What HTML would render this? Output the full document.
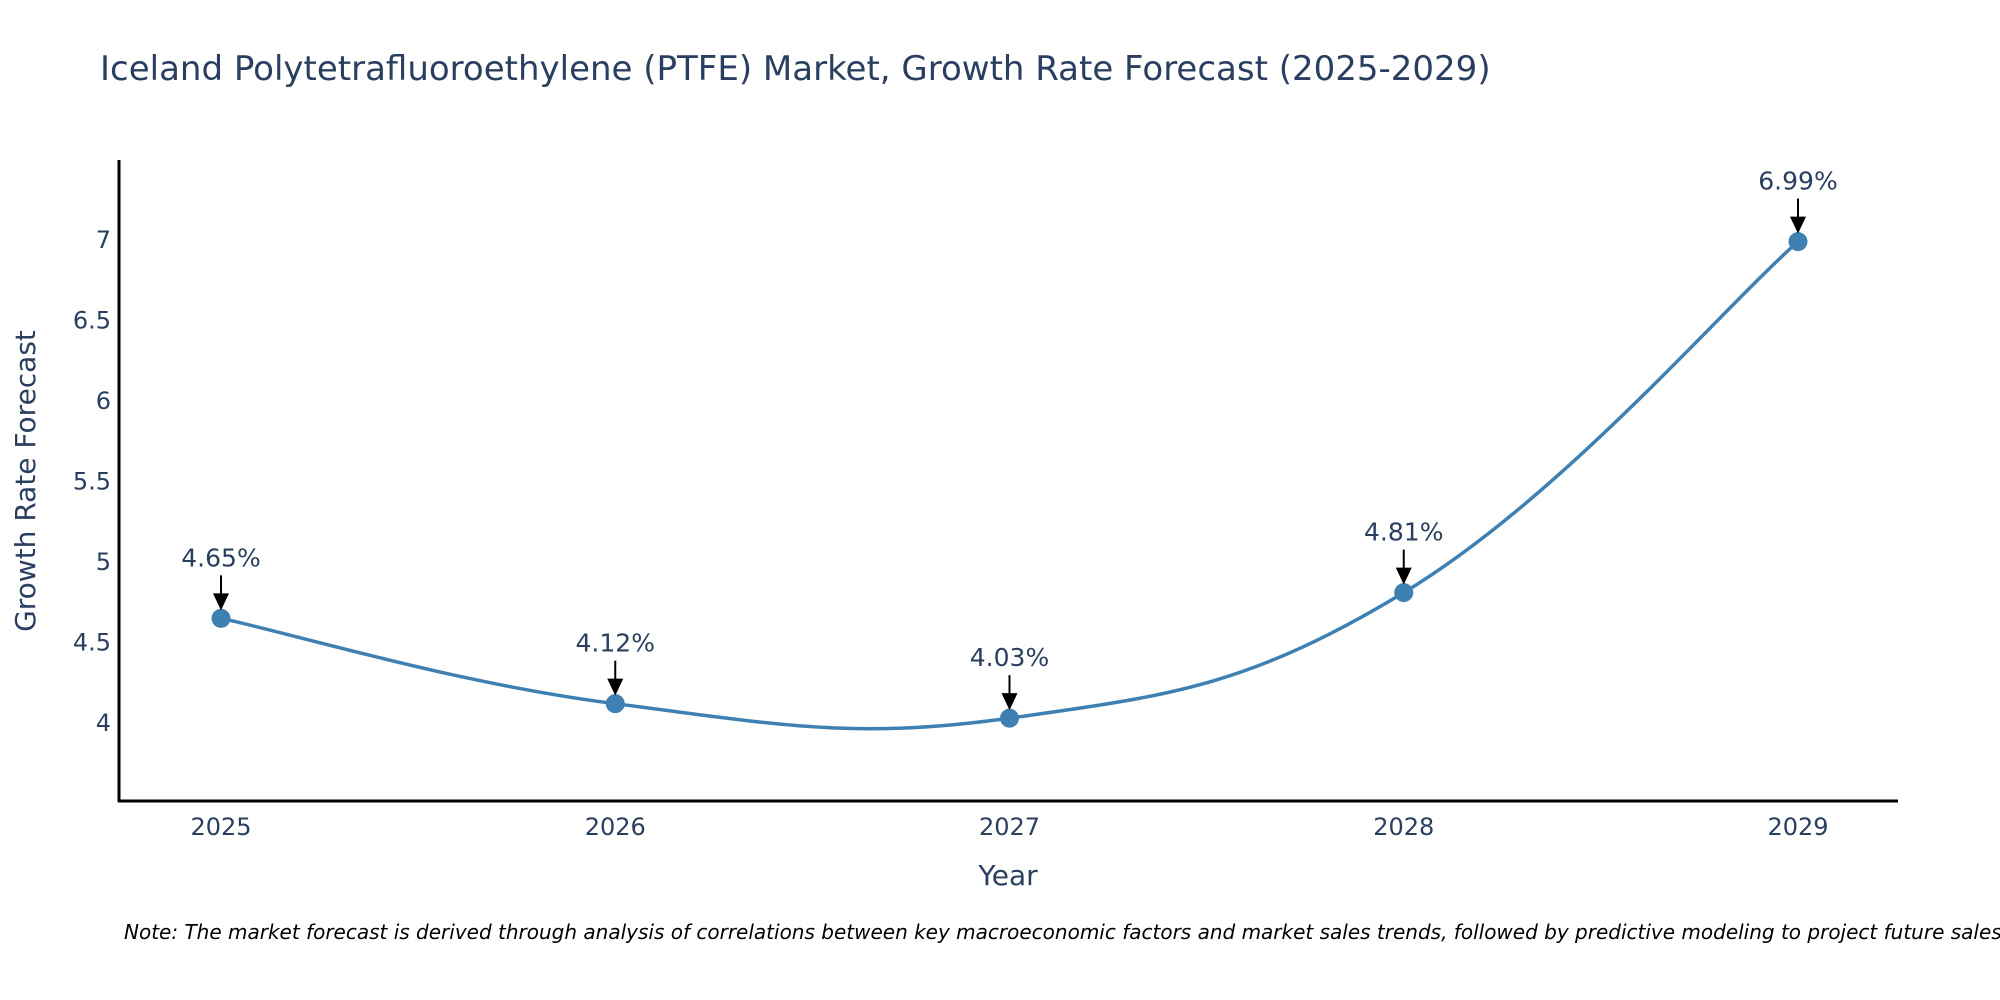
<!DOCTYPE html>
<html><head><meta charset="utf-8"><style>
body{margin:0;background:#fff}
svg{display:block;font-family:"DejaVu Sans","Liberation Sans",sans-serif}
</style></head><body>
<svg id="chart" width="2000" height="1000">
<text x="100" y="80" font-size="34" fill="#2a3f5f">Iceland Polytetrafluoroethylene (PTFE) Market, Growth Rate Forecast (2025-2029)</text>
<g id="yticks"></g>
<g id="xticks"></g>
<line x1="119" y1="160" x2="119" y2="802" stroke="#000" stroke-width="3"/>
<line x1="118" y1="801" x2="1898" y2="801" stroke="#000" stroke-width="3"/>
<text x="1008" y="885" font-size="28" fill="#2a3f5f" text-anchor="middle">Year</text>
<text transform="translate(35,481) rotate(-90)" font-size="28" fill="#2a3f5f" text-anchor="middle">Growth Rate Forecast</text>
<path id="line" fill="none" stroke="#3f80b3" stroke-width="3.5"/>
<g id="points"></g>
<g id="annots"></g>
<text x="124" y="939" font-size="20" font-style="italic" fill="#000">Note: The market forecast is derived through analysis of correlations between key macroeconomic factors and market sales trends, followed by predictive modeling to project future sales.</text>
</svg>
<script>
const years=["2025","2026","2027","2028","2029"];
const values=[4.65,4.12,4.03,4.81,6.99];
const labels=["4.65%","4.12%","4.03%","4.81%","6.99%"];
const yTickVals=[4,4.5,5,5.5,6,6.5,7];
const yTickLabels=["4","4.5","5","5.5","6","6.5","7"];
const NS="http://www.w3.org/2000/svg";
function xs(i){return 221+i*(1798-221)/(years.length-1);}
function ys(v){return 723-(v-4)*161;}
function mk(tag,attrs,parent){const e=document.createElementNS(NS,tag);for(const k in attrs)e.setAttribute(k,attrs[k]);parent.appendChild(e);return e;}
const yt=document.getElementById('yticks');
yTickVals.forEach((v,i)=>{const t=mk('text',{x:111,y:ys(v)+8,'font-size':24,fill:'#2a3f5f','text-anchor':'end'},yt);


t.textContent=yTickLabels[i];});
const xt=document.getElementById('xticks');
years.forEach((y,i)=>{const t=mk('text',{x:xs(i),y:835,'font-size':24,fill:'#2a3f5f','text-anchor':'middle'},xt);


t.textContent=y;});
const P=values.map((v,i)=>[xs(i),ys(v)]);
let d='M'+P[0][0]+','+P[0][1];const s=0.2;
for(let i=0;i<P.length-1;i++){const p0=P[Math.max(i-1,0)],p1=P[i],p2=P[i+1],p3=P[Math.min(i+2,P.length-1)];
const c1=[p1[0]+(p2[0]-p0[0])*s,p1[1]+(p2[1]-p0[1])*s],c2=[p2[0]-(p3[0]-p1[0])*s,p2[1]-(p3[1]-p1[1])*s];
d+=' C'+c1+' '+c2+' '+p2;}
document.getElementById('line').setAttribute('d',d);
const pg=document.getElementById('points'),ag=document.getElementById('annots');
P.forEach((p,i)=>{const c=mk('circle',{cx:p[0],cy:p[1],r:9.5,fill:'#3f80b3'},pg);


const l=mk('line',{x1:p[0],y1:p[1]-43,x2:p[0],y2:p[1]-22,stroke:'#000','stroke-width':2},ag);


const h=mk('polygon',{points:`${p[0]-8},${p[1]-25} ${p[0]+8},${p[1]-25} ${p[0]},${p[1]-8}`,fill:'#000'},ag);


const t=mk('text',{x:p[0],y:p[1]-52,'font-size':25,fill:'#2a3f5f','text-anchor':'middle'},ag);


t.textContent=labels[i];});
</script>
</body></html>
